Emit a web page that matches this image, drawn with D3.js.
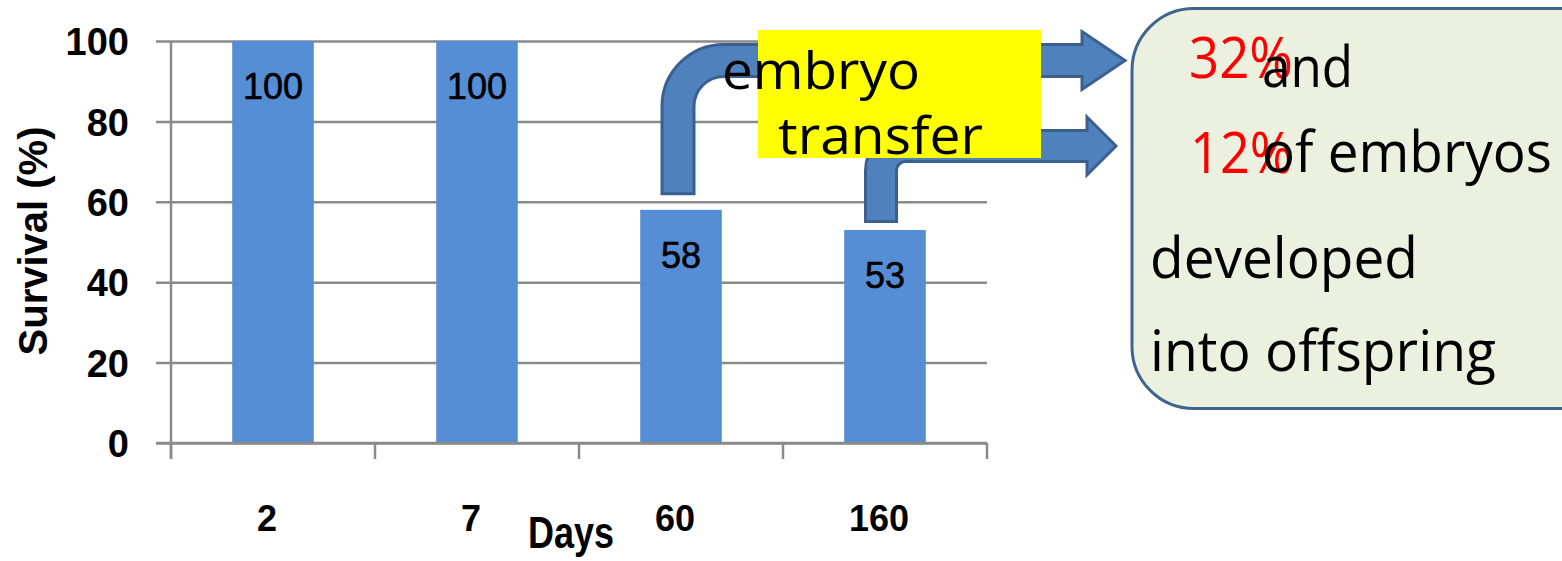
<!DOCTYPE html>
<html><head><meta charset="utf-8">
<script src="https://cdn.jsdelivr.net/npm/d3@7"></script>
<style>body{margin:0;background:#fff;} svg{display:block;}</style>
</head><body>
<svg id="c" width="1562" height="561"></svg>
<script>
const categories = ["2", "7", "60", "160"];
const survival = [100, 100, 58, 53];
const yTicks = [0, 20, 40, 60, 80, 100];
const transferLabel = ["embryo", "transfer"];
const offspringRates = ["32%", "12%"];
const noteLines = ["and", "of embryos", "developed", "into offspring"];

const svg = d3.select("#c");
const x = d3.scaleBand().domain(categories).range([171, 987]).paddingInner(0.6).paddingOuter(0.3);
const y = d3.scaleLinear().domain([0, 100]).range([443, 41]);
const chartFont = "'Liberation Sans', Arial, sans-serif";
const noteFont = "'Open Sans', 'Noto Sans', sans-serif";
const gridCol = "#8a8a8a";

// gridlines + y axis labels
const yAxis = d3.axisLeft(y).tickValues(yTicks).tickSizeInner(-(987 - 171)).tickSizeOuter(0).tickPadding(42);
const gy = svg.append("g").attr("transform", "translate(171,0)").call(yAxis);
gy.select(".domain").remove();
gy.selectAll(".tick line").attr("x1", -15).attr("x2", 987 - 171).attr("stroke", gridCol).attr("stroke-width", 2.5);
gy.selectAll(".tick text").attr("font-family", chartFont).attr("font-weight", "bold").attr("font-size", 38)
  .attr("fill", "#000").attr("dy", "0.36em");

// vertical axis line
svg.append("line").attr("x1", 171).attr("x2", 171).attr("y1", y(100)).attr("y2", y(0) + 16)
  .attr("stroke", gridCol).attr("stroke-width", 2.5);
// category boundary ticks
const bounds = categories.map(c => x(c) - x.step() * x.paddingOuter()).concat([x.range()[1]]);
svg.selectAll("line.xt").data(bounds).join("line").attr("class", "xt")
  .attr("x1", d => d).attr("x2", d => d).attr("y1", y(0)).attr("y2", y(0) + 16)
  .attr("stroke", gridCol).attr("stroke-width", 2.5);

// bars
svg.selectAll("rect.bar").data(survival).join("rect").attr("class", "bar")
  .attr("x", (d, i) => x(categories[i])).attr("width", x.bandwidth())
  .attr("y", d => y(d)).attr("height", d => y(0) - y(d)).attr("fill", "#558ed5");
// bottom axis line on top of bars
svg.append("line").attr("x1", 156).attr("x2", 987).attr("y1", y(0)).attr("y2", y(0))
  .attr("stroke", gridCol).attr("stroke-width", 2.5);

// value labels
svg.selectAll("text.val").data(survival).join("text").attr("class", "val")
  .attr("x", (d, i) => x(categories[i]) + x.bandwidth() / 2).attr("y", d => y(d) + 58)
  .attr("text-anchor", "middle").attr("font-family", chartFont).attr("font-size", 36).attr("fill", "#000")
  .attr("stroke", "#000").attr("stroke-width", 0.6)
  .text(d => d);

// x tick labels
svg.selectAll("text.xl").data(categories).join("text").attr("class", "xl")
  .attr("x", d => x(d) + x.bandwidth() / 2 - 6).attr("y", 531)
  .attr("text-anchor", "middle").attr("font-family", chartFont).attr("font-weight", "bold").attr("font-size", 36)
  .text(d => d);

// axis titles
svg.append("text").attr("x", 528).attr("y", 548).attr("font-family", chartFont).attr("font-weight", "bold")
  .attr("font-size", 44).attr("textLength", 86).attr("lengthAdjust", "spacingAndGlyphs").text("Days");
svg.append("text").attr("transform", "translate(47,241) rotate(-90)").attr("text-anchor", "middle")
  .attr("font-family", chartFont).attr("font-weight", "bold").attr("font-size", 40).text("Survival (%)");

// bent arrows
function bentArrow(cx, bottom, top, shaftW, rOut, headBase, headHalf, tip) {
  const l = cx - shaftW / 2, r = cx + shaftW / 2, bot = top + shaftW, mid = top + shaftW / 2;
  const rIn = Math.max(rOut - shaftW, 0);
  const p = d3.path();
  p.moveTo(l, bottom);
  p.lineTo(l, top + rOut);
  p.arcTo(l, top, l + rOut, top, rOut);
  p.lineTo(headBase, top);
  p.lineTo(headBase, mid - headHalf);
  p.lineTo(tip, mid);
  p.lineTo(headBase, mid + headHalf);
  p.lineTo(headBase, bot);
  if (rIn > 0) {
    p.lineTo(r + rIn, bot);
    p.arcTo(r, bot, r, bot + rIn, rIn);
  } else p.lineTo(r, bot);
  p.lineTo(r, bottom);
  p.closePath();
  return p.toString();
}
const arrowG = svg.append("g");
const a1x = x("60") + x.bandwidth() / 2 - 3;
arrowG.append("path").attr("d", bentArrow(a1x, y(58) - 16, 44.5, 32, 62, 1082, 29, 1125))
  .attr("fill", "#4f81bd").attr("stroke", "#3b6090").attr("stroke-width", 3).attr("stroke-linejoin", "miter");
const a2x = x("160") + x.bandwidth() / 2 - 4;
arrowG.append("path").attr("d", bentArrow(a2x, y(53) - 8.5, 130.5, 31, 40, 1087, 29, 1116))
  .attr("fill", "#4f81bd").attr("stroke", "#3b6090").attr("stroke-width", 3).attr("stroke-linejoin", "miter");

// yellow label box
svg.append("rect").attr("x", 758).attr("y", 30).attr("width", 1041 - 758).attr("height", 128).attr("fill", "#ffff00");
svg.append("text").attr("x", 722).attr("y", 89).attr("font-family", noteFont).attr("font-size", 51)
  .attr("textLength", 198).attr("lengthAdjust", "spacingAndGlyphs").text(transferLabel[0]);
svg.append("text").attr("x", 778).attr("y", 154).attr("font-family", noteFont).attr("font-size", 51)
  .attr("textLength", 205).attr("lengthAdjust", "spacingAndGlyphs").text(transferLabel[1]);

// rounded note box
svg.append("rect").attr("x", 1132).attr("y", 8.5).attr("width", 520).attr("height", 400).attr("rx", 62).attr("ry", 62)
  .attr("fill", "#ebf1de").attr("stroke", "#41648f").attr("stroke-width", 3);

const rateSpecs = [{x: 1189, y: 78, w: 104}, {x: 1190, y: 173, w: 103}];
svg.selectAll("text.rate").data(offspringRates).join("text").attr("class", "rate")
  .attr("x", (d, i) => rateSpecs[i].x).attr("y", (d, i) => rateSpecs[i].y)
  .attr("textLength", (d, i) => rateSpecs[i].w).attr("lengthAdjust", "spacingAndGlyphs")
  .attr("font-family", noteFont).attr("font-size", 57).attr("fill", "#ff0000").text(d => d);
const lineSpecs = [{x: 1262, y: 87, w: 91}, {x: 1262, y: 172, w: 290}, {x: 1150, y: 278, w: 268}, {x: 1150, y: 371, w: 346}];
svg.selectAll("text.note").data(noteLines).join("text").attr("class", "note")
  .attr("x", (d, i) => lineSpecs[i].x).attr("y", (d, i) => lineSpecs[i].y)
  .attr("textLength", (d, i) => lineSpecs[i].w).attr("lengthAdjust", "spacingAndGlyphs")
  .attr("font-family", noteFont).attr("font-size", 57).attr("fill", "#000").text(d => d);
</script>
</body></html>
